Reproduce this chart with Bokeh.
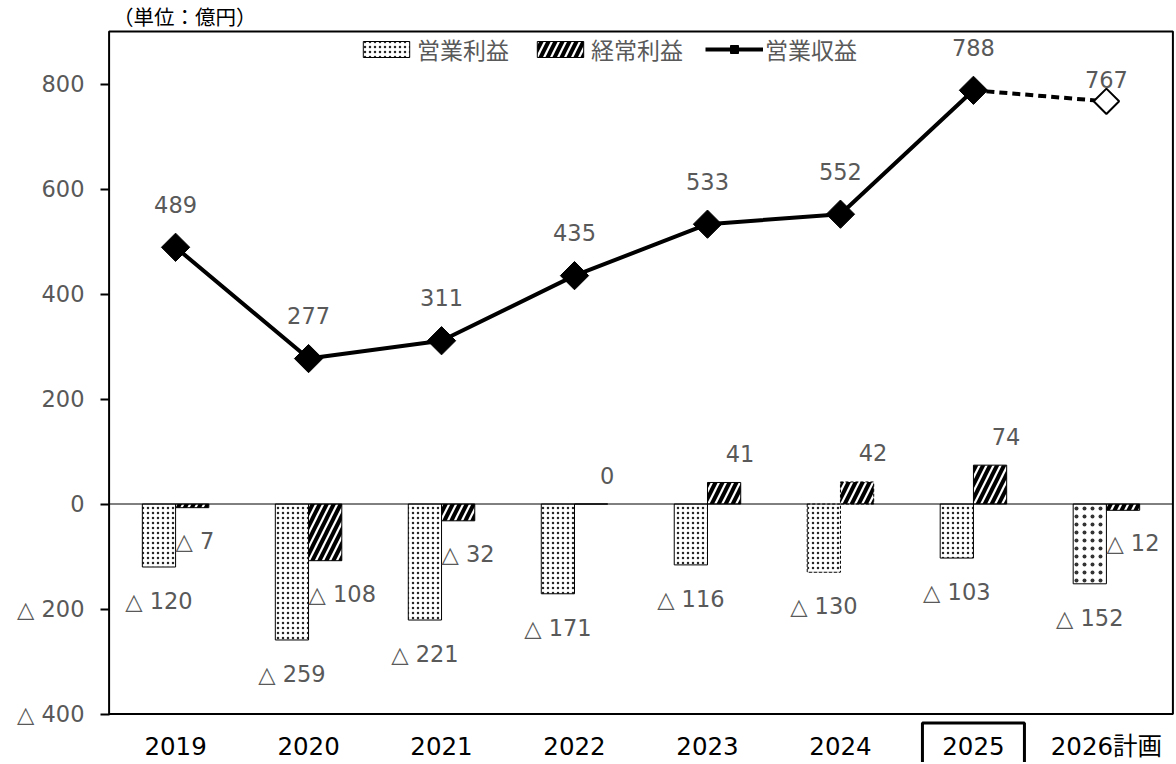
import math
from bokeh.plotting import figure
from bokeh.models import FixedTicker, Legend, LegendItem, CDSView, IndexFilter, ColumnDataSource, Range1d
from bokeh.core.properties import value
from bokeh.embed import file_html
from bokeh.resources import INLINE

# ---- data ----
years = ["2019", "2020", "2021", "2022", "2023", "2024", "2025", "2026計画"]
op_profit = [-120, -259, -221, -171, -116, -130, -103, -152]   # 営業利益
ord_profit = [-7, -108, -32, 0, 41, 42, 74, -12]                # 経常利益
revenue = [489, 277, 311, 435, 533, 552, 788, 767]              # 営業収益
y_ticks = [-400, -200, 0, 200, 400, 600, 800]
y_min, y_max = -400, 900
unit_label = "（単位：億円）"
highlight_year = "2025"
plan_year = "2026計画"
dashed_year = "2024"

def fmt(v):
    return f"△ {abs(v)}" if v < 0 else f"{v}"

FONT = "DejaVu Sans, Noto Sans CJK JP"
GRAY = "#595959"

# ---- layout ----
W, H = 1174, 762
LEFT = 107
TOP_PX = 31                  # plot area top (px from figure top)
PX_PER_UNIT = 0.525          # vertical scale
n = len(years)
xs = [i + 0.5 for i in range(n)]
y_top = y_max + TOP_PX / PX_PER_UNIT
y_bot = y_top - H / PX_PER_UNIT

plan_idx = years.index(plan_year)
dash_idx = years.index(dashed_year)
hi_idx = years.index(highlight_year)
normal_idx = [i for i in range(n) if i not in (plan_idx, dash_idx)]

BW = 0.25
src = ColumnDataSource(dict(
    x=xs, xo=[x - BW / 2 for x in xs], xr=[x + BW / 2 for x in xs],
    op=op_profit, ord=ord_profit, rev=revenue,
    op_lbl=[fmt(v) for v in op_profit],
    ord_lbl=[fmt(v) for v in ord_profit],
    rev_lbl=[fmt(v) for v in revenue],
    rev_dy=[-43 if y != plan_year else -22 for y in years],
    year=years,
))

p = figure(width=W, height=H, x_range=Range1d(-0.012, n + 0.012), y_range=Range1d(y_bot, y_top),
           output_backend="svg", toolbar_location=None,
           min_border_left=LEFT, min_border_right=0, min_border_bottom=0, min_border_top=0)
p.xaxis.visible = False
p.outline_line_color = None
p.xgrid.visible = False
p.ygrid.visible = False

def view(idx):
    return CDSView(filter=IndexFilter(idx))

dot_kw = dict(fill_color="white", line_color="black", line_width=1,
              hatch_pattern="dot", hatch_color="black")
diag_kw = dict(fill_color="white", line_color="black", line_width=1,
               hatch_pattern="right_diagonal_line", hatch_color="black",
               hatch_weight=4, hatch_scale=14)

op_r = p.vbar(x="xo", top="op", bottom=0, width=BW, source=src, view=view(normal_idx),
              hatch_scale=5, hatch_weight=0.3, hatch_alpha=0.85, **dot_kw)
p.vbar(x="xo", top="op", bottom=0, width=BW, source=src, view=view([dash_idx]),
       hatch_scale=5, hatch_weight=0.3, hatch_alpha=0.85, line_dash="3 2", **dot_kw)
p.vbar(x="xo", top="op", bottom=0, width=BW, source=src, view=view([plan_idx]),
       hatch_scale=8, hatch_weight=0.2, hatch_alpha=0.8, **dot_kw)

ord_r = p.vbar(x="xr", top="ord", bottom=0, width=BW, source=src, view=view(normal_idx), **diag_kw)
p.vbar(x="xr", top="ord", bottom=0, width=BW, source=src, view=view([dash_idx]),
       line_dash="3 2", **diag_kw)
p.vbar(x="xr", top="ord", bottom=0, width=BW, source=src, view=view([plan_idx]), **diag_kw)

# zero line and plot-area box
p.segment(x0=[0], y0=[0], x1=[n], y1=[0], line_color="black", line_width=1)
p.quad(left=[0], right=[n], bottom=[y_min], top=[y_max], fill_color=None,
       line_color="black", line_width=2)

# revenue line
line_r = p.line(x=xs[:plan_idx], y=revenue[:plan_idx], line_color="black", line_width=4)
mk_r = p.scatter(x=xs[:plan_idx], y=revenue[:plan_idx], marker="square", angle=math.pi / 4,
                 size=20, fill_color="black", line_color="black")
p.line(x=xs[plan_idx - 1:plan_idx + 1], y=revenue[plan_idx - 1:plan_idx + 1],
       line_color="black", line_width=4, line_dash="8 5")
p.scatter(x=[xs[plan_idx]], y=[revenue[plan_idx]], marker="square", angle=math.pi / 4,
          size=18, fill_color="white", line_color="black", line_width=2)

# data labels
lbl_kw = dict(text_font=value(FONT), text_font_size="22.5px", text_color=GRAY,
              text_baseline="middle", source=src)
p.text(x="x", y="rev", text="rev_lbl", text_align="center", y_offset="rev_dy", **lbl_kw)
p.text(x="xo", y="op", text="op_lbl", text_align="center", y_offset=34, **lbl_kw)
neg = [i for i, v in enumerate(ord_profit) if v < 0]
pos = [i for i, v in enumerate(ord_profit) if v >= 0]
p.text(x="x", y="ord", text="ord_lbl", text_align="left", y_offset=33, view=view(neg), **lbl_kw)
p.text(x="xr", y="ord", text="ord_lbl", text_align="center", y_offset=-29, x_offset=16,
       view=view(pos), **lbl_kw)

# category labels (x axis)
p.text(x="x", y=y_min, text="year", text_align="center", text_baseline="middle", y_offset=32,
       text_font=value(FONT), text_font_size="24.5px", text_color="black", source=src)
p.rect(x=[xs[hi_idx]], y=[y_min - 33 / PX_PER_UNIT], width=102, height=48,
       width_units="screen", height_units="screen", fill_color=None,
       line_color="black", line_width=3)

# unit label
p.text(x=[0], y=[y_max], text=[unit_label], text_align="left", text_baseline="middle",
       x_offset=4, y_offset=-14, text_font=value(FONT), text_font_size="20.5px",
       text_color="black")

# y axis
yax = p.yaxis[0]
yax.ticker = FixedTicker(ticks=y_ticks)
yax.major_label_overrides = {t: fmt(t) for t in y_ticks}
yax.major_label_text_font = FONT
yax.major_label_text_font_size = "22.5px"
yax.major_label_text_color = GRAY
yax.axis_line_color = None
yax.major_tick_line_width = 2
yax.major_tick_out = 7
yax.major_tick_in = 2
yax.minor_tick_line_color = None
yax.major_label_standoff = 16

legend = Legend(items=[LegendItem(label="営業利益", renderers=[op_r]),
                       LegendItem(label="経常利益", renderers=[ord_r]),
                       LegendItem(label="営業収益", renderers=[line_r, mk_r])],
                orientation="horizontal", location=(250, 696),
                border_line_alpha=0, background_fill_alpha=0,
                label_text_font=FONT, label_text_font_size="23px", label_text_color=GRAY,
                glyph_width=58, glyph_height=20, spacing=22, label_standoff=2,
                padding=0, margin=0)
p.add_layout(legend)

open("out.html", "w").write(file_html(p, INLINE))
